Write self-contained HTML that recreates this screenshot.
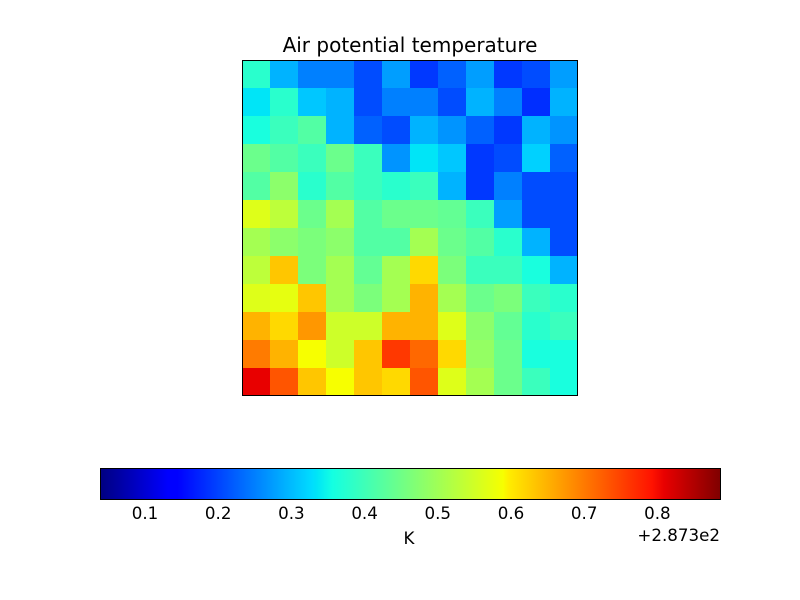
<!DOCTYPE html>
<html><head><meta charset="utf-8"><style>
html,body{margin:0;padding:0;background:#fff;}
#w{position:relative;width:800px;height:600px;overflow:hidden;background:#fff;}
#hm{position:absolute;left:242px;top:60px;width:336px;height:336px;display:grid;grid-template-columns:repeat(12,28px);grid-template-rows:repeat(12,28px);}
#hm i{display:block;width:28px;height:28px;}
svg{position:absolute;left:0;top:0;}
</style></head><body><div id="w">
<div id="hm">
<i style="background:#29ffcd"></i><i style="background:#00b3ff"></i><i style="background:#0080ff"></i><i style="background:#0080ff"></i><i style="background:#004cff"></i><i style="background:#009eff"></i><i style="background:#0038ff"></i><i style="background:#0061ff"></i><i style="background:#009eff"></i><i style="background:#0038ff"></i><i style="background:#004cff"></i><i style="background:#009eff"></i>
<i style="background:#00e5f7"></i><i style="background:#29ffcd"></i><i style="background:#00c7ff"></i><i style="background:#00b3ff"></i><i style="background:#004cff"></i><i style="background:#0080ff"></i><i style="background:#0080ff"></i><i style="background:#004cff"></i><i style="background:#00b3ff"></i><i style="background:#0080ff"></i><i style="background:#002eff"></i><i style="background:#00b3ff"></i>
<i style="background:#19ffde"></i><i style="background:#3affbd"></i><i style="background:#52ffa4"></i><i style="background:#00b3ff"></i><i style="background:#0061ff"></i><i style="background:#004cff"></i><i style="background:#00b3ff"></i><i style="background:#0094ff"></i><i style="background:#0061ff"></i><i style="background:#0038ff"></i><i style="background:#00b3ff"></i><i style="background:#0094ff"></i>
<i style="background:#6bff8c"></i><i style="background:#52ffa4"></i><i style="background:#3affbd"></i><i style="background:#6bff8c"></i><i style="background:#3affbd"></i><i style="background:#0094ff"></i><i style="background:#00e5f7"></i><i style="background:#00c7ff"></i><i style="background:#0038ff"></i><i style="background:#004cff"></i><i style="background:#00d1ff"></i><i style="background:#0061ff"></i>
<i style="background:#52ffa4"></i><i style="background:#8cff6b"></i><i style="background:#29ffcd"></i><i style="background:#52ffa4"></i><i style="background:#3affbd"></i><i style="background:#29ffcd"></i><i style="background:#3affbd"></i><i style="background:#00b3ff"></i><i style="background:#0038ff"></i><i style="background:#0080ff"></i><i style="background:#004cff"></i><i style="background:#004cff"></i>
<i style="background:#deff19"></i><i style="background:#bdff3a"></i><i style="background:#6bff8c"></i><i style="background:#a4ff52"></i><i style="background:#52ffa4"></i><i style="background:#6bff8c"></i><i style="background:#6bff8c"></i><i style="background:#63ff94"></i><i style="background:#3affbd"></i><i style="background:#009eff"></i><i style="background:#004cff"></i><i style="background:#004cff"></i>
<i style="background:#a4ff52"></i><i style="background:#8cff6b"></i><i style="background:#7bff7b"></i><i style="background:#8cff6b"></i><i style="background:#52ffa4"></i><i style="background:#52ffa4"></i><i style="background:#a4ff52"></i><i style="background:#6bff8c"></i><i style="background:#52ffa4"></i><i style="background:#29ffcd"></i><i style="background:#00b3ff"></i><i style="background:#004cff"></i>
<i style="background:#bdff3a"></i><i style="background:#ffc600"></i><i style="background:#7bff7b"></i><i style="background:#a4ff52"></i><i style="background:#63ff94"></i><i style="background:#a4ff52"></i><i style="background:#ffd900"></i><i style="background:#7bff7b"></i><i style="background:#3affbd"></i><i style="background:#3affbd"></i><i style="background:#19ffde"></i><i style="background:#00b3ff"></i>
<i style="background:#deff19"></i><i style="background:#e6ff10"></i><i style="background:#ffc600"></i><i style="background:#a4ff52"></i><i style="background:#7bff7b"></i><i style="background:#a4ff52"></i><i style="background:#ffb300"></i><i style="background:#a4ff52"></i><i style="background:#6bff8c"></i><i style="background:#7bff7b"></i><i style="background:#3affbd"></i><i style="background:#29ffcd"></i>
<i style="background:#ffb300"></i><i style="background:#ffd900"></i><i style="background:#ff9700"></i><i style="background:#cdff29"></i><i style="background:#cdff29"></i><i style="background:#ffb300"></i><i style="background:#ffb300"></i><i style="background:#deff19"></i><i style="background:#8cff6b"></i><i style="background:#63ff94"></i><i style="background:#29ffcd"></i><i style="background:#3affbd"></i>
<i style="background:#ff7b00"></i><i style="background:#ffb300"></i><i style="background:#f7ff00"></i><i style="background:#cdff29"></i><i style="background:#ffc600"></i><i style="background:#ff3800"></i><i style="background:#ff6800"></i><i style="background:#ffd900"></i><i style="background:#94ff63"></i><i style="background:#6bff8c"></i><i style="background:#19ffde"></i><i style="background:#19ffde"></i>
<i style="background:#e80000"></i><i style="background:#ff5500"></i><i style="background:#ffc600"></i><i style="background:#f7ff00"></i><i style="background:#ffc600"></i><i style="background:#ffd900"></i><i style="background:#ff5500"></i><i style="background:#deff19"></i><i style="background:#a4ff52"></i><i style="background:#6bff8c"></i><i style="background:#3affbd"></i><i style="background:#19ffde"></i>
</div>
<svg width="800" height="600" viewBox="0 0 800 600" xmlns="http://www.w3.org/2000/svg">
<defs>
<linearGradient id="jet" gradientUnits="userSpaceOnUse" x1="100" y1="0" x2="720" y2="0">
<stop offset="0" stop-color="#000080"/>
<stop offset="0.11" stop-color="#0000ff"/>
<stop offset="0.125" stop-color="#0000ff"/>
<stop offset="0.34" stop-color="#00dbff"/>
<stop offset="0.35" stop-color="#00e5f7"/>
<stop offset="0.375" stop-color="#14ffe2"/>
<stop offset="0.64" stop-color="#eeff08"/>
<stop offset="0.65" stop-color="#f7ff00"/>
<stop offset="0.66" stop-color="#ffec00"/>
<stop offset="0.89" stop-color="#ff1300"/>
<stop offset="0.91" stop-color="#e80000"/>
<stop offset="1" stop-color="#800000"/>
</linearGradient>
</defs>
<rect x="242.5" y="60.5" width="335" height="335" fill="none" stroke="#000" stroke-width="1"/>
<text x="410" y="52" font-family="DejaVu Sans, Liberation Sans, sans-serif" font-size="20" text-anchor="middle" fill="#000">Air potential temperature</text>
<rect x="100.5" y="468.5" width="620" height="31" fill="url(#jet)" stroke="#000" stroke-width="1"/>
<g font-family="DejaVu Sans, Liberation Sans, sans-serif" font-size="16.7" text-anchor="middle" fill="#000">
<text x="145" y="519">0.1</text>
<text x="218.2" y="519">0.2</text>
<text x="291.4" y="519">0.3</text>
<text x="364.6" y="519">0.4</text>
<text x="437.8" y="519">0.5</text>
<text x="511" y="519">0.6</text>
<text x="584.2" y="519">0.7</text>
<text x="657.4" y="519">0.8</text>
<text x="409" y="544">K</text>
<text x="720" y="541" text-anchor="end">+2.873e2</text>
</g>
</svg>
</div></body></html>
